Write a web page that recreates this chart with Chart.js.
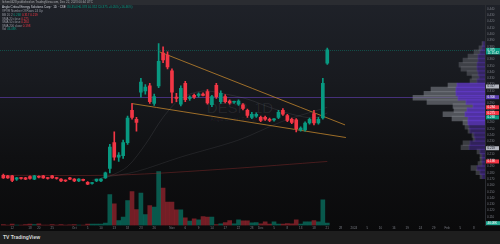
<!DOCTYPE html>
<html>
<head>
<meta charset="utf-8">
<title>DESP 1D</title>
<script src="https://cdn.jsdelivr.net/npm/chart.js@4.4.1/dist/chart.umd.min.js"></script>
<style>
  html, body { margin: 0; padding: 0; }
  body { width: 500px; height: 244px; overflow: hidden; background: #1e1e1e; font-family: "Liberation Sans", Arial, sans-serif; position: relative; }
  #pane { position: absolute; left: 0; top: 0; width: 500px; height: 231px; overflow: hidden;
          background: linear-gradient(180deg, #1f2229 0%, #181a1f 35%, #0f1012 68%, #0a0a0b 100%); }
  #pane canvas { position: absolute; left: 0; top: 0; }
  #topbar { position: absolute; left: 0; top: 0; width: 500px; height: 5px; background: #2a2c31; color: #a9abb0;
            font-size: 3px; line-height: 5px; padding-left: 2px; box-sizing: border-box; white-space: nowrap; }
  .lg { position: absolute; left: 2px; font-size: 3px; line-height: 3px; color: #9598a1; white-space: nowrap; }
  .lg b { font-weight: normal; color: #d1d4dc; }
  .up { color: #089981; } .dn { color: #f23645; }
  #wm { position: absolute; left: 160px; top: 99px; width: 160px; text-align: center; color: rgba(255,255,255,0.07); }
  #wm .t { font-size: 15px; line-height: 17px; }
  #wm .s { font-size: 5px; line-height: 6px; }
  #foot { position: absolute; left: 0; top: 231px; width: 500px; height: 13px; background: #1e1e1e; }
  #logo { position: absolute; left: 3px; top: 235px; font-size: 5px; line-height: 5px; color: #d9d9d9; font-weight: bold; white-space: nowrap; }
</style>
</head>
<body>
<div id="pane">
  <div id="wm"><div class="t">DESP, 1D</div><div class="s">Anglo Critical Energy Corp</div></div>
  <canvas id="main" width="500" height="231"></canvas>
  <canvas id="profile" width="500" height="231"></canvas>
  <div id="topbar">ltchen0428 published on TradingView.com, Dec 22, 2023 00:44 UTC</div>
  <div class="lg" style="top:5.5px"><b>Anglo Critical Energy Solutions Corp · 1D · CSE</b> <span class="up">O0.354 H0.378 L0.352 C0.375 +0.053 (+16.46%)</span></div>
  <div class="lg" style="top:10.3px">VPVR Number Of Rows 24 Up</div>
  <div class="lg" style="top:13.6px">BB 20 2 <span class="up">0.268</span> <span class="dn">0.317 0.219</span></div>
  <div class="lg" style="top:17.9px">SMA 20 close <span class="dn">0.275</span></div>
  <div class="lg" style="top:21.2px">SMA 50 close <span class="dn">0.284</span></div>
  <div class="lg" style="top:24.5px">SMA 200 close <span class="dn">0.198</span></div>
  <div class="lg" style="top:27.8px">Vol <span class="up">46.08K</span></div>
</div>
<div id="foot"></div>
<div id="logo">TV TradingView</div>

<script>
// daily candles, one per trading-day slot (0 = Sep 8)
const opens  = [0.176,0.175,0.175,0.170,0.172,0.172,0.174,0.170,0.174,0.175,
                0.172,0.175,0.172,0.170,0.168,0.172,0.170,0.167,0.169,0.165,
                0.163,0.167,0.167,0.172,0.187,0.228,0.205,0.207,0.228,0.279,
                0.265,0.308,0.310,0.318,0.290,0.318,0.370,0.367,0.342,0.300,
                0.289,0.322,0.298,0.303,0.303,0.305,0.309,0.288,0.319,0.293,
                0.301,0.294,0.292,0.289,0.288,0.279,0.268,0.270,0.268,0.268,
                0.265,0.264,0.268,0.279,0.271,0.265,0.264,0.248,0.248,0.259,
                0.274,0.259,0.267,0.354];
const highs  = [0.178,0.176,0.176,0.173,0.173,0.173,0.175,0.176,0.175,0.176,
                0.173,0.176,0.173,0.171,0.169,0.173,0.171,0.171,0.170,0.166,
                0.165,0.170,0.171,0.181,0.225,0.245,0.212,0.232,0.270,0.290,
                0.268,0.330,0.320,0.322,0.305,0.385,0.380,0.372,0.345,0.306,
                0.318,0.325,0.302,0.305,0.307,0.307,0.312,0.303,0.322,0.310,
                0.304,0.296,0.294,0.296,0.290,0.281,0.276,0.275,0.270,0.270,
                0.267,0.266,0.279,0.282,0.273,0.267,0.266,0.253,0.261,0.267,
                0.279,0.268,0.330,0.378];
const lows   = [0.171,0.171,0.166,0.168,0.170,0.169,0.170,0.169,0.172,0.171,
                0.170,0.171,0.170,0.166,0.166,0.169,0.166,0.166,0.167,0.161,
                0.162,0.166,0.166,0.171,0.180,0.200,0.198,0.203,0.225,0.265,
                0.246,0.300,0.305,0.290,0.287,0.315,0.355,0.345,0.291,0.293,
                0.286,0.293,0.295,0.298,0.300,0.302,0.289,0.285,0.298,0.290,
                0.291,0.289,0.290,0.287,0.280,0.268,0.266,0.268,0.261,0.263,
                0.261,0.262,0.266,0.271,0.261,0.258,0.245,0.246,0.246,0.257,
                0.256,0.257,0.265,0.352];
const closes = [0.172,0.172,0.168,0.172,0.171,0.170,0.171,0.175,0.173,0.172,
                0.171,0.172,0.171,0.167,0.167,0.170,0.167,0.170,0.168,0.162,
                0.164,0.170,0.170,0.180,0.221,0.205,0.208,0.228,0.267,0.268,
                0.260,0.324,0.316,0.293,0.301,0.357,0.359,0.348,0.308,0.298,
                0.314,0.296,0.300,0.300,0.305,0.303,0.291,0.301,0.301,0.306,
                0.293,0.291,0.293,0.294,0.282,0.271,0.273,0.273,0.263,0.265,
                0.263,0.265,0.276,0.273,0.263,0.260,0.250,0.251,0.259,0.265,
                0.259,0.265,0.322,0.375];
// volume in thousands of shares
const volumes = [20,10,30,10,6,20,30,20,34,10, 8,16,10,20,10,14,16,10,10,26,
                 26,26,26,46,620,434,100,166,500,680, 320,646,220,400,366,1080,746,466,466,314,
                 314,154,86,134,114,180,166,166,20,34, 60,100,34,114,94,94,54,60,34,74,
                 26,74,26,26,40,34,114,26,74,74, 100,74,514,46];

// time axis
const dateTickSlots  = [2,6,8,11,16,19,22,25,28,31,34,38,41,44,47,50,53,56,58,61,64,67,70,73,76,79,82,85,88,91,94,97,100,103,106];
const dateTickLabels = ['12','18','20','25','Oct','5','10','13','18','23','26','Nov','6','9','14','17','22','28','Dec','5','8','13','18','21','28','2024','5','10','16','19','24','29','Feb','5','8'];
// price axis
const priceTicks = [0.44,0.43,0.42,0.41,0.40,0.39,0.38,0.37,0.36,0.35,0.34,0.33,0.32,0.31,0.30,0.29,0.28,0.27,
                    0.26,0.25,0.24,0.23,0.22,0.21,0.20,0.19,0.18,0.17,0.16,0.15,0.14,0.13,0.12,0.11,0.10];

// drawings and indicators (slot, price)
const wedgeTop    = [[35.2, 0.372], [77.0, 0.256]];
const wedgeBottom = [[28.9, 0.290], [77.2, 0.236]];
const sma20  = [[20,0.168],[24,0.175],[28,0.190],[32,0.225],[36,0.268],[40,0.298],[45,0.310],[50,0.305],[55,0.297],[60,0.284],[65,0.273],[70,0.267],[73,0.275]];
const sma50  = [[22,0.172],[30,0.182],[40,0.205],[53,0.232],[63,0.262],[73,0.284]];
const sma200 = [[0,0.176],[26,0.1765],[50,0.186],[73,0.198]];
const pocPrice = 0.300;

// price-axis tags: price, background, text colour, label
const axisTags = [
  [0.317, '#b2b5be', '#131722', '0.317'],
  [0.300, '#5b3fb0', '#ffffff', '0.300'],
  [0.284, '#f23645', '#ffffff', '0.284'],
  [0.275, '#f23645', '#ffffff', '0.275'],
  [0.268, '#089981', '#ffffff', '0.268'],
  [0.219, '#b2b5be', '#131722', '0.219'],
  [0.198, '#f23645', '#ffffff', '0.198']
];

// visible volume profile rows
const profilePrices = [0.400,0.3925,0.385,0.3775,0.370,0.3625,0.355,0.3475,0.340,0.3325,0.325,0.3175,0.310,0.3025,0.295,0.2875,0.280,
                       0.2725,0.265,0.2575,0.250,0.2425,0.235,0.2275,0.220,0.2125,0.205,0.1975,0.190,0.1825,0.175,0.1675,0.160];
const profileUp   = [100,150,250,350,350,400,400,350,300,400,1400,1450,1450,1350,950,600,900,1000,850,850,800,750,550,500,750,800,250,150,150,150,400,250,150];
const profileDown = [50,150,300,500,750,900,800,550,350,350,450,1250,1600,2250,1950,1000,650,1100,800,250,200,100,100,100,350,400,150,100,100,200,300,200,100];

const UP = '#089981', DN = '#f23645';
const PRICE_MIN = 0.09635, PRICE_MAX = 0.45429;
const slots = opens.map((_, i) => i);
const isUp = i => closes[i] >= opens[i];
const font3 = { family: '"Liberation Sans", Arial, sans-serif', size: 3 };

const toPts = arr => arr.map(p => ({ x: p[0], y: p[1] }));
const lineSet = (pts, color, width, order) => ({
  type: 'line', data: toPts(pts), borderColor: color, borderWidth: width,
  pointRadius: 0, tension: 0.3, yAxisID: 'y', order: order
});

const overlay = {
  id: 'overlay',
  beforeDatasetsDraw(chart) {
    const { ctx, chartArea, scales } = chart;
    ctx.save();
    let y = Math.round(scales.y.getPixelForValue(pocPrice)) + 0.5;
    ctx.strokeStyle = 'rgba(110,70,200,0.55)';
    ctx.lineWidth = 1;
    ctx.beginPath(); ctx.moveTo(chartArea.left, y); ctx.lineTo(chartArea.right, y); ctx.stroke();
    y = Math.round(scales.y.getPixelForValue(closes[closes.length - 1])) + 0.5;
    ctx.setLineDash([1, 1]);
    ctx.strokeStyle = 'rgba(8,153,129,0.4)';
    ctx.beginPath(); ctx.moveTo(chartArea.left, y); ctx.lineTo(chartArea.right, y); ctx.stroke();
    ctx.restore();
  },
  afterDraw(chart) {
    const { ctx, chartArea, scales } = chart;
    const x0 = chartArea.right + 1;
    ctx.save();
    ctx.font = '3px "Liberation Sans", Arial, sans-serif';
    ctx.textBaseline = 'middle';
    axisTags.forEach(([p, bg, fg, txt]) => {
      const y = scales.y.getPixelForValue(p);
      ctx.fillStyle = bg; ctx.fillRect(x0, y - 2, 13, 4);
      ctx.fillStyle = fg; ctx.fillText(txt, x0 + 1.5, y);
    });
    // last price with countdown
    const last = closes[closes.length - 1];
    let y = scales.y.getPixelForValue(last);
    ctx.fillStyle = UP; ctx.fillRect(x0, y - 2, 14, 6.5);
    ctx.fillStyle = '#ffffff';
    ctx.fillText(last.toFixed(3), x0 + 1.5, y);
    ctx.fillText('11:15:42', x0 + 1.5, y + 3);
    // last volume
    y = scales.yv.getPixelForValue(volumes[volumes.length - 1]);
    ctx.fillStyle = '#22ab94'; ctx.fillRect(x0, y - 2, 14, 4);
    ctx.fillStyle = '#ffffff'; ctx.fillText('46.08K', x0 + 1.5, y);
    ctx.restore();
  }
};

new Chart(document.getElementById('main').getContext('2d'), {
  type: 'bar',
  data: {
    datasets: [
      {
        label: 'body', data: slots.map(i => ({ x: i, y: [opens[i], closes[i]] })),
        backgroundColor: slots.map(i => isUp(i) ? UP : DN),
        barThickness: 3, minBarLength: 1, grouped: false, yAxisID: 'y', order: 1
      },
      {
        label: 'wick', data: slots.map(i => ({ x: i, y: [lows[i], highs[i]] })),
        backgroundColor: slots.map(i => isUp(i) ? UP : DN),
        barThickness: 1, grouped: false, yAxisID: 'y', order: 2
      },
      lineSet(wedgeTop, 'rgba(201,138,46,0.85)', 0.9, 3),
      lineSet(wedgeBottom, 'rgba(201,138,46,0.85)', 0.9, 3),
      lineSet(sma20, 'rgba(200,200,210,0.11)', 1, 4),
      lineSet(sma50, 'rgba(200,200,210,0.10)', 1, 4),
      lineSet(sma200, 'rgba(140,45,45,0.45)', 1, 4),
      {
        label: 'volume', data: slots.map(i => ({ x: i, y: volumes[i] })),
        backgroundColor: slots.map(i => isUp(i) ? 'rgba(8,153,129,0.55)' : 'rgba(242,54,69,0.45)'),
        barThickness: 4, grouped: false, yAxisID: 'yv', order: 5
      }
    ]
  },
  options: {
    responsive: false,
    devicePixelRatio: 1,
    animation: false,
    layout: { padding: 0 },
    plugins: { legend: { display: false }, tooltip: { enabled: false } },
    scales: {
      x: {
        type: 'linear', min: -0.75, max: 108.54, offset: false,
        grid: { display: false, drawTicks: false },
        border: { display: false },
        afterBuildTicks: s => { s.ticks = dateTickSlots.map(v => ({ value: v })); },
        afterFit: s => { s.height = 5.5; s.paddingLeft = 0; s.paddingRight = 0; },
        ticks: { autoSkip: false, maxRotation: 0, minRotation: 0, padding: 1, font: font3, color: '#7b7e86',
                 callback: (v, i) => dateTickLabels[i] }
      },
      y: {
        type: 'linear', position: 'right', min: PRICE_MIN, max: PRICE_MAX,
        grid: { display: false, drawTicks: false },
        border: { display: true, color: '#2a2c31' },
        afterBuildTicks: s => { s.ticks = priceTicks.map(v => ({ value: v })); },
        afterFit: s => { s.width = 15; s.paddingTop = 0; s.paddingBottom = 0; },
        ticks: { autoSkip: false, padding: 2, font: font3, color: '#7b7e86', callback: v => v.toFixed(3) }
      },
      yv: { type: 'linear', display: false, min: 0, max: 4510 }
    }
  },
  plugins: [overlay]
});

// volume profile, bars grow leftwards from the price axis
const vaRow = i => i >= 10 && i <= 19;
new Chart(document.getElementById('profile').getContext('2d'), {
  type: 'bar',
  data: {
    datasets: [
      {
        data: profilePrices.map((p, i) => ({ x: profileUp[i], y: p })),
        backgroundColor: profilePrices.map((_, i) => vaRow(i) ? 'rgba(98,58,200,0.78)' : 'rgba(80,50,160,0.5)'),
        barThickness: 4.8, stack: 'vp'
      },
      {
        data: profilePrices.map((p, i) => ({ x: profileDown[i], y: p })),
        backgroundColor: profilePrices.map((_, i) => vaRow(i) ? 'rgba(120,122,130,0.62)' : 'rgba(100,102,110,0.5)'),
        barThickness: 4.8, stack: 'vp'
      }
    ]
  },
  options: {
    indexAxis: 'y',
    responsive: false,
    devicePixelRatio: 1,
    animation: false,
    layout: { padding: { left: 0, top: 0, right: 15, bottom: 5.5 } },
    plugins: { legend: { display: false }, tooltip: { enabled: false } },
    scales: {
      x: { type: 'linear', display: false, reverse: true, min: 0, max: 24250, stacked: true },
      y: { type: 'linear', display: false, min: PRICE_MIN, max: PRICE_MAX, stacked: true }
    }
  }
});
</script>
</body>
</html>
